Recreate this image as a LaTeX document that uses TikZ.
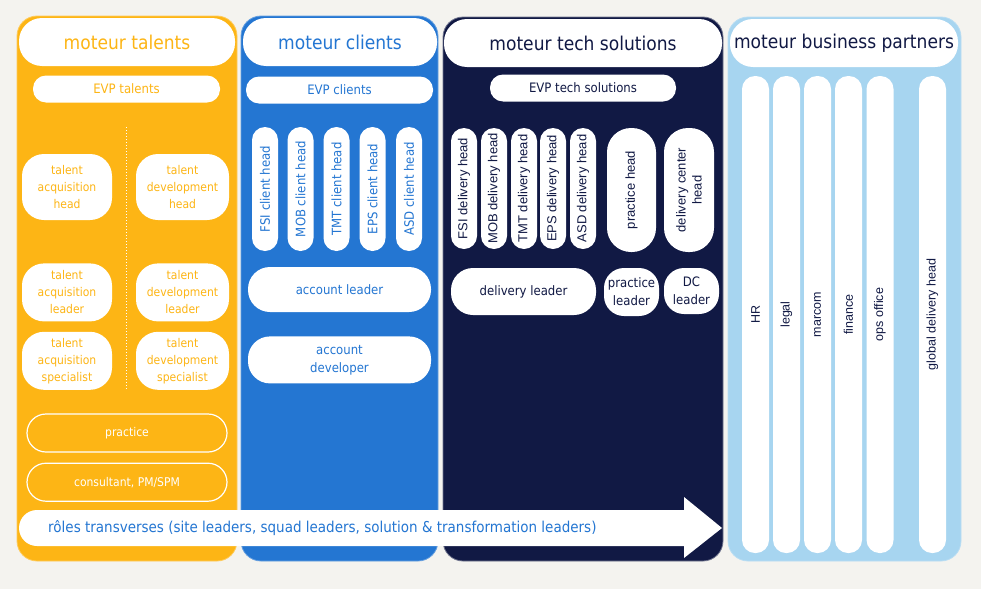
\documentclass[tikz,border=0pt]{standalone}
\usepackage{fontspec}
\setmainfont{DejaVu Sans}[FakeStretch=0.9]
\newfontfamily\arialfont{Liberation Sans}
\usepackage{xcolor}
\usepackage{tikz}
\usetikzlibrary{positioning}

\definecolor{bgcol}{HTML}{F4F3EF}
\definecolor{talentcol}{HTML}{FDB515}
\definecolor{clientcol}{HTML}{2476D2}
\definecolor{techcol}{HTML}{111944}
\definecolor{partnercol}{HTML}{A7D5F0}

\begin{document}
\begin{tikzpicture}[x=1pt, y=-1pt]
\tikzstyle{hdr} = [rectangle, fill=white, rounded corners=23pt, minimum height=48pt, inner sep=0pt, font=\fontsize{19}{23}\selectfont]
\tikzstyle{evp} = [rectangle, fill=white, rounded corners=13pt, minimum width=187pt, minimum height=27pt, inner sep=0pt, font=\fontsize{13}{16}\selectfont]
\tikzstyle{role} = [rectangle, fill=white, rounded corners=22pt, minimum width=90pt, inner sep=0pt, align=center, text=talentcol, font=\fontsize{12}{17}\selectfont]
\tikzstyle{ring} = [rectangle, draw=white, line width=1.2pt, fill=talentcol, rounded corners=19pt, minimum width=200pt, minimum height=38pt, inner sep=0pt, text=white, font=\fontsize{12}{15}\selectfont]
\tikzstyle{vpill} = [rectangle, fill=white, rounded corners=13pt, rotate=90, minimum height=26pt, inner sep=0pt, align=center, font=\fontsize{13}{16}\selectfont]
\tikzstyle{cpill} = [vpill, minimum width=124pt, text=clientcol]
\tikzstyle{tpill} = [vpill, minimum width=121pt, text=techcol, font=\arialfont\fontsize{13}{16}\selectfont]
\tikzstyle{wpill} = [rectangle, fill=white, rounded corners=22pt, inner sep=0pt, align=center, font=\fontsize{13}{18}\selectfont]
\tikzstyle{strip} = [vpill, minimum width=477pt, minimum height=27pt, text=techcol, font=\arialfont\fontsize{12.5}{15}\selectfont]

\useasboundingbox (0,0) rectangle (981,589);
\fill[bgcol] (0,0) rectangle (981,589);

% the four columns
\filldraw[fill=talentcol, draw=talentcol!70!white, line width=0.8pt, rounded corners=20pt] (17,16) rectangle (237,561);
\filldraw[fill=clientcol, draw=clientcol!70!white, line width=0.8pt, rounded corners=20pt] (241,16) rectangle (438,561);
\filldraw[fill=techcol, draw=techcol!60!white, line width=0.8pt, rounded corners=20pt] (443,17) rectangle (723,561);
\filldraw[fill=partnercol, draw=partnercol!80!white, line width=0.8pt, rounded corners=20pt] (728,17) rectangle (961,561);

% headers
\node (hdrtal) [hdr, minimum width=216pt, text=talentcol] at (127,42) {moteur talents};
\node (hdrcli) [hdr, minimum width=194pt, text=clientcol] at (340,42) {moteur clients};
\node (hdrtech) [hdr, minimum width=278pt, text=techcol] at (583,43) {moteur tech solutions};
\node (hdrbp) [hdr, minimum width=228pt, text=techcol] at (844,43) {moteur business partners};

% moteur talents
\node (evptal) [evp, text=talentcol] at (126.5,89) {EVP talents};
\draw[white, dotted, line width=1pt] (126,127) -- (126,389);
\node (acqhead) [role, minimum height=66pt] at (67,187) {talent\\acquisition\\head};
\node (devhead) [role, minimum height=66pt, minimum width=93pt] at (182.5,187) {talent\\development\\head};
\node (acqlead) [role, minimum height=58pt, below=43pt of acqhead] {talent\\acquisition\\leader};
\node (devlead) [role, minimum height=58pt, minimum width=93pt, below=43pt of devhead] {talent\\development\\leader};
\node (acqspec) [role, minimum height=58pt, below=10pt of acqlead] {talent\\acquisition\\specialist};
\node (devspec) [role, minimum height=58pt, minimum width=93pt, below=10pt of devlead] {talent\\development\\specialist};
\node (practice) [ring] at (127,433) {practice};
\node (consult) [ring, below=10pt of practice] {consultant, PM/SPM};

% moteur clients
\node (evpcli) [evp, text=clientcol] at (339.5,90) {EVP clients};
\node (fsicli) [cpill] at (265,189) {FSI client head};
\node (mobcli) [cpill] at (300.5,189) {MOB client head};
\node (tmtcli) [cpill] at (336.5,189) {TMT client head};
\node (epscli) [cpill] at (372.5,189) {EPS client head};
\node (asdcli) [cpill] at (409,189) {ASD client head};
\node (accl) [wpill, minimum width=183pt, minimum height=45pt, text=clientcol] at (339.5,289.5) {account leader};
\node (accd) [wpill, minimum width=183pt, minimum height=47pt, text=clientcol, below=24pt of accl] {account\\developer};

% moteur tech solutions
\node (evptech) [evp, minimum width=186pt, text=techcol] at (583,88) {EVP tech solutions};
\node (fsidel) [tpill] at (464,188.5) {FSI delivery head};
\node (mobdel) [tpill] at (494,188.5) {MOB delivery head};
\node (tmtdel) [tpill] at (524,188.5) {TMT delivery head};
\node (epsdel) [tpill] at (553,188.5) {EPS delivery head};
\node (asddel) [tpill] at (583,188.5) {ASD delivery head};
\node (prachead) [tpill, minimum width=124pt, minimum height=49pt, rounded corners=24pt] at (631.5,190) {practice head};
\node (dchead) [tpill, minimum width=124pt, minimum height=50pt, rounded corners=24pt] at (689,190) {delivery center\\head};
\node (dlead) [wpill, minimum width=145pt, minimum height=47pt, text=techcol] at (523.5,291.5) {delivery leader};
\node (praclead) [wpill, minimum width=55pt, minimum height=48pt, rounded corners=20pt, text=techcol] at (631.5,292) {practice\\leader};
\node (dclead) [wpill, minimum width=55pt, minimum height=46pt, rounded corners=20pt, text=techcol] at (691.5,291) {DC\\leader};

% moteur business partners
\node (hr) [strip] at (755.5,314.5) {HR};
\node (legal) [strip] at (786.5,314.5) {legal};
\node (marcom) [strip] at (817.5,314.5) {marcom};
\node (finance) [strip] at (848.5,314.5) {finance};
\node (opsoff) [strip] at (880,314.5) {ops office};
\node (gdh) [strip] at (932.5,314.5) {global delivery head};

% transverse arrow
\fill[white] (684,510) -- (684,497) -- (722,528) -- (684,558) -- (684,546) -- (37,546)
  arc[start angle=270, end angle=90, radius=18pt] -- cycle;
\node (roles) [anchor=west, inner sep=0pt, text=clientcol, font=\fontsize{15}{18}\selectfont] at (48,528) {rôles transverses (site leaders, squad leaders, solution \& transformation leaders)};

\end{tikzpicture}
\end{document}
